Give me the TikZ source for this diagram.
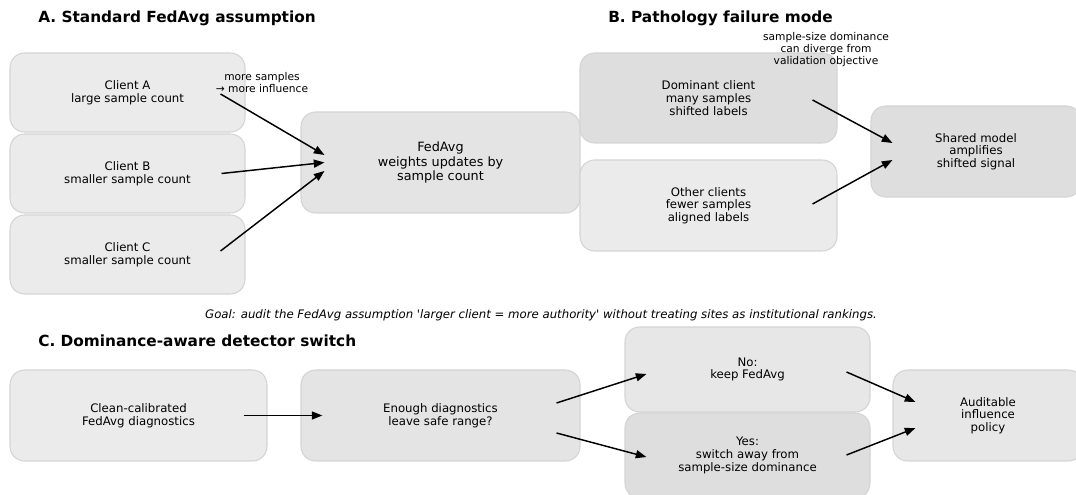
\documentclass[tikz,border=0pt]{standalone}
\usepackage{fontspec}
\setmainfont{DejaVu Sans}
\usetikzlibrary{arrows.meta}

\definecolor{paleA}{HTML}{EBEBEB}
\definecolor{paleB}{HTML}{E4E4E4}
\definecolor{paleC}{HTML}{DEDEDE}
\definecolor{paleD}{HTML}{E7E7E7}
\definecolor{rimgray}{HTML}{D4D4D4}

\begin{document}
\begin{tikzpicture}[x=0.75pt, y=-0.75pt,
    box/.style 2 args={draw=rimgray, line width=0.8pt, rounded corners=11pt,
        minimum width=#1*0.75pt, minimum height=#2*0.75pt, inner sep=0pt,
        align=center, font=\fontsize{8.8}{9.5}\selectfont},
    flow/.style={-{Triangle[length=8pt,width=6pt]}, line width=1.1pt},
    heading/.style={anchor=west, inner sep=0pt, font=\bfseries\fontsize{11.5}{13}\selectfont},
    remark/.style={align=center, font=\fontsize{8}{9}\selectfont}]
    \useasboundingbox (0,0) rectangle (1076,495);
    \clip (0,0) rectangle (1076,495);

    % Titel der drei Felder
    \node[heading] (ta) at (38,18) {A. Standard FedAvg assumption};
    \node[heading] (tb) at (608,18) {B. Pathology failure mode};
    \node[heading] (tc) at (38,341) {C. Dominance-aware detector switch};

    % A: Clients und Aggregation
    \foreach \nm/\y/\txt in {ca/92.5/{Client A\\large sample count},
                             cb/173.5/{Client B\\smaller sample count},
                             cc/254.5/{Client C\\smaller sample count}} {
        \node[box={235}{79}, fill=paleA] (\nm) at (127.5,\y) {\txt};
    }
    \node[box={279}{101}, fill=paleB, font=\fontsize{9.6}{10.9}\selectfont] (fed) at (440.5,162.5)
        {FedAvg\\weights updates by\\sample count};
    \node[remark] (more) at (262,83) {more samples\\→ more influence};

    \draw[flow] ([shift={(-25,1.5)}]ca.east) -- ([shift={(24,-7.5)}]fed.west);
    \draw[flow] ([xshift=-24*0.75pt]cb.east) -- ([xshift=24*0.75pt]fed.west);
    \draw[flow] ([shift={(-25,-3.5)}]cc.east) -- ([shift={(24,8.5)}]fed.west);

    % B: dominanter Client
    \node[box={257}{90}, fill=paleC] (dom) at (708.5,98) {Dominant client\\many samples\\shifted labels};
    \node[box={257}{91}, fill=paleA] (oth) at (708.5,205.5) {Other clients\\fewer samples\\aligned labels};
    \node[box={210}{91}, fill=paleC] (shared) at (976,151.5) {Shared model\\amplifies\\shifted signal};
    \node[remark] (diverge) at (826,49.5) {sample-size dominance\\can diverge from\\validation objective};

    \draw[flow] ([shift={(-25,2)}]dom.east) -- ([shift={(22,-8.5)}]shared.west);
    \draw[flow] ([shift={(-25,-1.5)}]oth.east) -- ([shift={(22,8.5)}]shared.west);

    % Zielsatz
    \node[font=\itshape\fontsize{8.8}{10}\selectfont] (goal) at (541,315)
        {Goal: audit the FedAvg assumption \textquotesingle larger client = more authority\textquotesingle{} without treating sites as institutional rankings.};

    % C: Detektor-Schalter
    \node[box={257}{91}, fill=paleA] (clean) at (138.5,415.5) {Clean-calibrated\\FedAvg diagnostics};
    \node[box={279}{91}, fill=paleB] (enough) at (440.5,415.5) {Enough diagnostics\\leave safe range?};
    \node[box={245}{85}, fill=paleD] (keep) at (747.5,369.5) {No:\\keep FedAvg};
    \node[box={245}{85}, fill=paleC] (switch) at (747.5,455.5) {Yes:\\switch away from\\sample-size dominance};
    \node[box={190}{91}, fill=paleD] (audit) at (988,415.5) {Auditable\\influence\\policy};

    \draw[flow] ([xshift=-24*0.75pt]clean.east) -- ([xshift=22*0.75pt]enough.west);
    \draw[flow] ([shift={(-24,-12.5)}]enough.east) -- ([shift={(22,4.5)}]keep.west);
    \draw[flow] ([shift={(-24,17.5)}]enough.east) -- ([shift={(22,1.5)}]switch.west);
    \draw[flow] ([shift={(-24,2.5)}]keep.east) -- ([shift={(23,-13.5)}]audit.west);
    \draw[flow] ([shift={(-24,-0.5)}]switch.east) -- ([shift={(23,12.5)}]audit.west);
\end{tikzpicture}
\end{document}
